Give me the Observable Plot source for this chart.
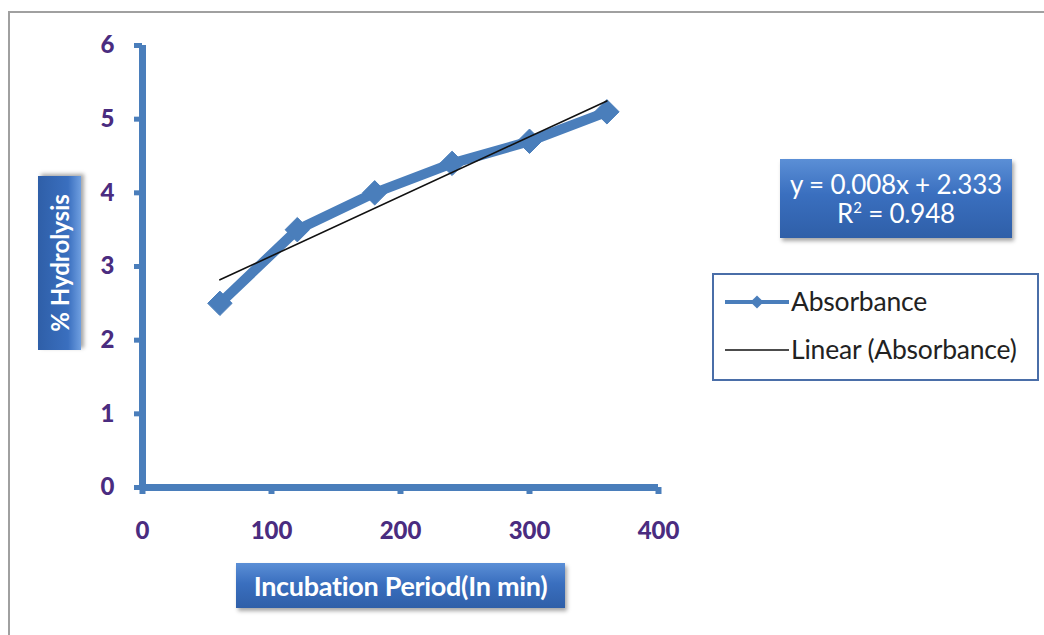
<!DOCTYPE html>
<html>
<head>
<meta charset="utf-8">
<script src="https://cdn.jsdelivr.net/npm/d3@7"></script>
<script src="https://cdn.jsdelivr.net/npm/@observablehq/plot@0.6"></script>
<style>
  html, body { margin: 0; padding: 0; background: #fff; }
  #wrap { position: relative; width: 1044px; height: 635px; overflow: hidden; font-family: Lato, "Open Sans", sans-serif; }
  #frame { position: absolute; left: 8px; top: 11px; width: 1100px; height: 700px; border-left: 2px solid #a0a0a0; border-top: 2px solid #a0a0a0; }
  .bluebox { position: absolute; color: #fff; background: linear-gradient(180deg, #5b8fd6 0%, #3a6fbf 45%, #2f5fa8 100%); box-shadow: 2px 3px 4px rgba(0,0,0,0.35); display: flex; align-items: center; justify-content: center; text-align: center; white-space: nowrap; }
  #ytitle { left: 38px; top: 176px; width: 174px; height: 43px; transform-origin: 0 0; transform: translate(0, 174px) rotate(-90deg); font-weight: bold; font-size: 24px; background: linear-gradient(0deg, #6f9fe0 0%, #3a6fbf 30%, #2f5fa8 100%); }
  #xtitle { left: 236px; top: 563px; width: 329px; height: 45px; font-weight: bold; font-size: 27px; letter-spacing: -0.3px; }
  #eq { left: 780px; top: 159px; width: 232px; height: 79px; font-size: 26px; line-height: 29px; flex-direction: column; letter-spacing: -0.2px; }
  #legend { position: absolute; left: 712px; top: 273px; width: 323px; height: 104px; border: 2px solid #4a6ea8; background: #fff; color: #222; }
  #plot { position: absolute; left: 0; top: 0; }
</style>
</head>
<body>
<div id="wrap">
  <div id="frame"></div>
  <div id="plot"></div>
  <div id="ytitle" class="bluebox">% Hydrolysis</div>
  <div id="xtitle" class="bluebox">Incubation Period(In min)</div>
  <div id="eq" class="bluebox"><div>y = 0.008x + 2.333</div><div>R<sup style="font-size:15px;vertical-align:10px;line-height:0">2</sup> = 0.948</div></div>
  <div id="legend"></div>
</div>
<script>
const incubation = [60, 120, 180, 240, 300, 360];
const hydrolysis = [2.5, 3.5, 4.0, 4.4, 4.7, 5.1];
const xTicks = [0, 100, 200, 300, 400];
const yTicks = [0, 1, 2, 3, 4, 5, 6];
const seriesName = "Absorbance";
const trendName = "Linear (Absorbance)";

const data = incubation.map((x, i) => ({x, y: hydrolysis[i]}));
const blue = "#4a7ebb";
const purple = "#4a2c80";

const plot = Plot.plot({
  width: 1044,
  height: 635,
  marginLeft: 142,
  marginRight: 386,
  marginTop: 45,
  marginBottom: 148,
  x: {domain: [0, 400]},
  y: {domain: [0, 6]},
  style: {fontFamily: "Lato, 'Open Sans', sans-serif", background: "transparent", overflow: "visible"},
  marks: [
    Plot.axisX({ticks: xTicks, tickSize: 7, tickPadding: 27, strokeWidth: 6, stroke: blue, fill: purple, fontSize: 24, fontWeight: "900", label: null}),
    Plot.axisY({ticks: yTicks, tickFormat: "d", tickSize: 8, tickPadding: 20, strokeWidth: 5, stroke: blue, fill: purple, fontSize: 24, fontWeight: "900", label: null}),
    Plot.ruleY([0], {x1: 0, x2: 400, stroke: blue, strokeWidth: 7}),
    Plot.ruleX([0], {y1: 0, y2: 6, stroke: blue, strokeWidth: 7}),
    Plot.line(data, {x: "x", y: "y", stroke: blue, strokeWidth: 10, strokeLinejoin: "round"}),
    Plot.dot(data, {x: "x", y: "y", symbol: "diamond2", r: 11, fill: blue, stroke: blue, strokeWidth: 1}),
    Plot.linearRegressionY(data, {x: "x", y: "y", stroke: "#111", strokeWidth: 1.6, ci: 0})
  ]
});
document.getElementById("plot").appendChild(plot);

// legend
const lg = d3.select("#legend").append("svg").attr("width", 323).attr("height", 104);
const rows = [{name: seriesName, marker: true, y: 27}, {name: trendName, marker: false, y: 75}];
rows.forEach(r => {
  lg.append("line").attr("x1", 11).attr("x2", 75).attr("y1", r.y).attr("y2", r.y)
    .attr("stroke", r.marker ? blue : "#111").attr("stroke-width", r.marker ? 4 : 1.6);
  if (r.marker) {
    lg.append("path").attr("d", d3.symbol(d3.symbolDiamond2, 110)()).attr("transform", `translate(43,${r.y})`).attr("fill", blue);
  }
  lg.append("text").attr("x", 77).attr("y", r.y + 9).attr("font-size", 26.5).attr("fill", "#222")
    .attr("font-family", "Lato, 'Open Sans', sans-serif").attr("letter-spacing", -0.2).text(r.name);
});
</script>
</body>
</html>
